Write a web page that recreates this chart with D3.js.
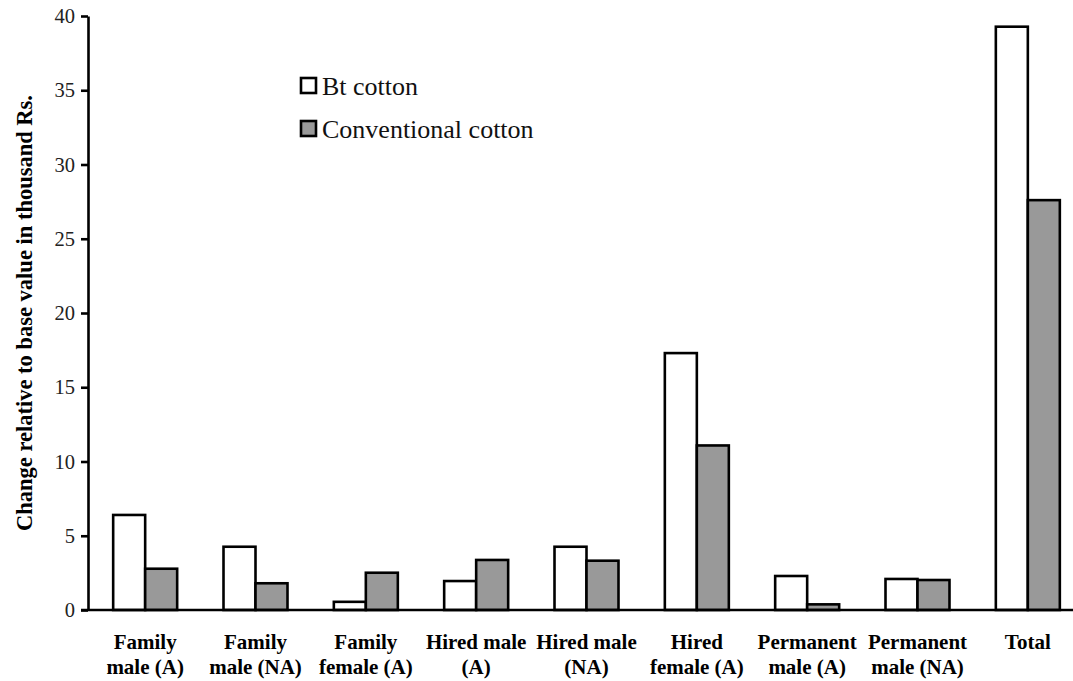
<!DOCTYPE html>
<html>
<head>
<meta charset="utf-8">
<script src="https://cdn.jsdelivr.net/npm/d3@7"></script>
<style>
  body { margin: 0; background: #fff; }
</style>
</head>
<body>
<svg id="chart" width="1073" height="681"></svg>
<script>
const categories = [
  ["Family", "male (A)"],
  ["Family", "male (NA)"],
  ["Family", "female (A)"],
  ["Hired male", "(A)"],
  ["Hired male", "(NA)"],
  ["Hired", "female (A)"],
  ["Permanent", "male (A)"],
  ["Permanent", "male (NA)"],
  ["Total"]
];
const seriesNames = ["Bt cotton", "Conventional cotton"];
const seriesColors = ["#ffffff", "#999999"];
const btValues = [6.4, 4.26, 0.55, 1.95, 4.26, 17.3, 2.29, 2.09, 39.28];
const convValues = [2.78, 1.8, 2.51, 3.37, 3.32, 11.08, 0.38, 2.02, 27.6];
const yTicks = [0, 5, 10, 15, 20, 25, 30, 35, 40];

const width = 1073, height = 681;
const serif = "Liberation Serif";
const svg = d3.select("#chart").attr("font-family", serif);

const x0 = 88, xEnd = 1083, yTop = 16, yBottom = 610;

const x = d3.scaleBand()
    .domain(d3.range(categories.length))
    .range([90, xEnd])
    .paddingInner(0.42)
    .paddingOuter(0.21);

const xs = d3.scaleBand()
    .domain([0, 1])
    .range([0, x.bandwidth()]);

const y = d3.scaleLinear().domain([0, 40]).range([yBottom, yTop]);

// bars
const series = [btValues, convValues];
series.forEach((vals, s) => {
    svg.append("g").selectAll("rect")
        .data(vals)
        .join("rect")
        .attr("x", (d, i) => x(i) + xs(s))
        .attr("y", d => y(d))
        .attr("width", xs.bandwidth())
        .attr("height", d => y(0) - y(d))
        .attr("fill", seriesColors[s])
        .attr("stroke", "#000")
        .attr("stroke-width", 2.6);
});

// y axis
const yAxis = svg.append("g")
    .attr("transform", `translate(${x0},0)`)
    .call(d3.axisLeft(y).tickValues(yTicks).tickSize(7).tickSizeOuter(0).tickPadding(6))
    .attr("font-family", serif)
    .attr("font-size", 20.5);
yAxis.select(".domain").attr("stroke-width", 2.6);
yAxis.selectAll(".tick line").attr("stroke-width", 2.6);
yAxis.selectAll(".tick text").attr("fill", "#222");

// x axis line
svg.append("line")
    .attr("x1", x0 - 7).attr("x2", width)
    .attr("y1", y(0)).attr("y2", y(0))
    .attr("stroke", "#000").attr("stroke-width", 2.6);

// category labels
categories.forEach((lines, i) => {
    const t = svg.append("text")
        .attr("x", x(i) + x.bandwidth() / 2)
        .attr("y", 649)
        .attr("text-anchor", "middle")
        .attr("font-family", serif)
        .attr("font-size", 21)
        .attr("font-weight", "bold");
    lines.forEach((ln, k) => {
        t.append("tspan")
            .attr("x", x(i) + x.bandwidth() / 2)
            .attr("dy", k === 0 ? 0 : 25)
            .text(ln);
    });
});

// y axis title
svg.append("text")
    .attr("transform", `translate(32,${(yTop + yBottom) / 2}) rotate(-90)`)
    .attr("text-anchor", "middle")
    .attr("font-family", serif)
    .attr("font-size", 22.5)
    .attr("font-weight", "bold")
    .text("Change relative to base value in thousand Rs.");

// legend
const legend = svg.append("g").attr("transform", "translate(301,78)");
seriesNames.forEach((n, i) => {
    const g = legend.append("g").attr("transform", `translate(0,${i * 43})`);
    g.append("rect")
        .attr("width", 15).attr("height", 15)
        .attr("fill", seriesColors[i])
        .attr("stroke", "#000").attr("stroke-width", 2.6);
    g.append("text")
        .attr("x", 21).attr("y", 17)
        .attr("font-family", serif)
        .attr("font-size", 26)
        .attr("fill", "#111")
        .text(n);
});
</script>
</body>
</html>
